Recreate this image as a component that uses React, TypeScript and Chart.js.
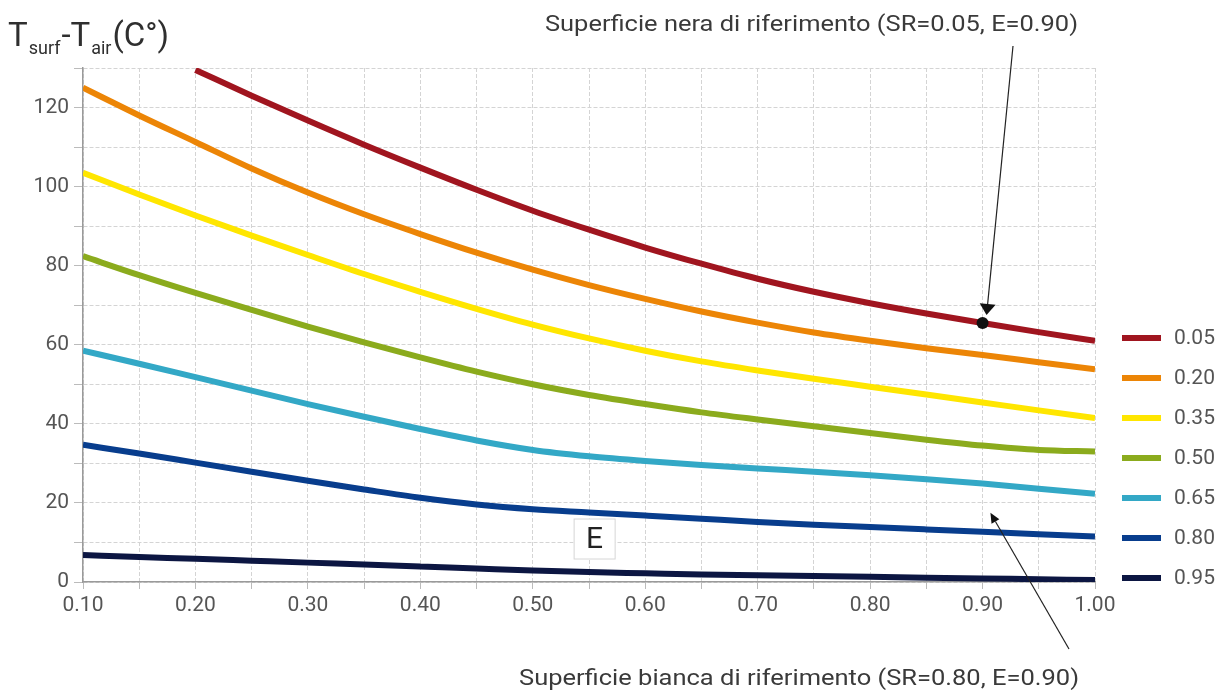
import React, { useEffect, useRef } from "react";
import { Chart, registerables } from "chart.js";

Chart.register(...registerables);

// ---------- data ----------
const xValues = [0.1, 0.15, 0.2, 0.25, 0.3, 0.35, 0.4, 0.45, 0.5, 0.55, 0.6, 0.65, 0.7, 0.75, 0.8, 0.85, 0.9, 0.95, 1.0];
const xTickLabels = ["0.10", "0.20", "0.30", "0.40", "0.50", "0.60", "0.70", "0.80", "0.90", "1.00"];
const yTickLabels = ["0", "20", "40", "60", "80", "100", "120"];
const seriesLabels = ["0.05", "0.20", "0.35", "0.50", "0.65", "0.80", "0.95"];
const seriesColors = ["#a0151f", "#ec8506", "#ffe600", "#8bab1d", "#33a8c6", "#083d8d", "#0c1642"];

const sr005 = [null, null, 129.5, 123.0, 116.7, 110.6, 104.8, 99.2, 93.9, 89.1, 84.6, 80.5, 76.7, 73.4, 70.5, 67.9, 65.5, 63.2, 61.0];
const sr020 = [125.0, 118.0, 111.3, 104.6, 98.5, 93.0, 88.0, 83.3, 79.0, 75.1, 71.6, 68.4, 65.6, 63.1, 61.0, 59.1, 57.4, 55.6, 53.8];
const sr035 = [103.5, 98.0, 92.7, 87.6, 82.7, 77.9, 73.4, 69.1, 65.1, 61.6, 58.5, 55.8, 53.5, 51.4, 49.4, 47.4, 45.4, 43.4, 41.5];
const sr050 = [82.4, 77.6, 73.1, 68.8, 64.6, 60.6, 56.8, 53.2, 50.0, 47.3, 45.0, 42.9, 41.1, 39.4, 37.7, 36.0, 34.5, 33.4, 33.0];
const sr065 = [58.5, 55.2, 51.8, 48.4, 45.0, 41.8, 38.7, 35.8, 33.4, 31.8, 30.6, 29.6, 28.7, 27.9, 27.0, 26.0, 24.9, 23.6, 22.3];
const sr080 = [34.7, 32.5, 30.2, 27.9, 25.6, 23.4, 21.3, 19.6, 18.4, 17.6, 16.8, 16.0, 15.2, 14.5, 13.9, 13.3, 12.7, 12.1, 11.5];
const sr095 = [6.8, 6.3, 5.9, 5.4, 4.9, 4.4, 3.9, 3.4, 2.9, 2.5, 2.2, 1.9, 1.7, 1.5, 1.3, 1.1, 0.9, 0.7, 0.5];
const allSeries = [sr005, sr020, sr035, sr050, sr065, sr080, sr095];

const topNote = "Superficie nera di riferimento (SR=0.05, E=0.90)";
const bottomNote = "Superficie bianca di riferimento (SR=0.80, E=0.90)";
const eLabel = "E";

const FONT = "Roboto, 'Noto Sans', sans-serif";

function drawFitText(ctx: CanvasRenderingContext2D, text: string, left: number, cy: number, width: number, size: number, color: string) {
  ctx.save();
  ctx.font = `${size}px ${FONT}`;
  const w = ctx.measureText(text).width;
  ctx.translate(left, cy);
  ctx.scale(width / w, 1);
  ctx.fillStyle = color;
  ctx.textBaseline = "middle";
  ctx.textAlign = "left";
  ctx.fillText(text, 0, 0);
  ctx.restore();
}

function arrow(ctx: CanvasRenderingContext2D, x1: number, y1: number, x2: number, y2: number, headLen: number, headW: number) {
  const ang = Math.atan2(y2 - y1, x2 - x1);
  const bx = x2 - headLen * Math.cos(ang);
  const by = y2 - headLen * Math.sin(ang);
  ctx.beginPath();
  ctx.moveTo(x1, y1);
  ctx.lineTo(bx, by);
  ctx.stroke();
  ctx.beginPath();
  ctx.moveTo(x2, y2);
  ctx.lineTo(bx + (headW / 2) * Math.sin(ang), by - (headW / 2) * Math.cos(ang));
  ctx.lineTo(bx - (headW / 2) * Math.sin(ang), by + (headW / 2) * Math.cos(ang));
  ctx.closePath();
  ctx.fill();
}

const decorPlugin = {
  id: "decor",
  afterDraw(chart: any) {
    const ctx: CanvasRenderingContext2D = chart.ctx;
    const xs = chart.scales.x;
    const ys = chart.scales.y;

    // axis title with subscripts
    ctx.save();
    ctx.fillStyle = "#2f2f2f";
    ctx.textBaseline = "alphabetic";
    ctx.textAlign = "left";
    let x = 8;
    const parts: [string, number, number][] = [
      ["T", 33, 46],
      ["surf", 18, 54],
      ["-T", 33, 46],
      ["air", 18, 54],
      ["(C°)", 33, 46],
    ];
    for (const [t, s, b] of parts) {
      ctx.font = `${s}px ${FONT}`;
      ctx.fillText(t, x, b);
      x += ctx.measureText(t).width + 1;
    }
    ctx.restore();

    // legend
    ctx.save();
    chart.data.datasets.forEach((ds: any, i: number) => {
      const yc = 338 + i * 40;
      ctx.strokeStyle = ds.borderColor;
      ctx.lineWidth = 6;
      ctx.beginPath();
      ctx.moveTo(1122, yc);
      ctx.lineTo(1161, yc);
      ctx.stroke();
      ctx.font = `21px ${FONT}`;
      ctx.fillStyle = "#555";
      ctx.textBaseline = "middle";
      ctx.textAlign = "left";
      ctx.fillText(ds.label, 1174, yc + 1);
    });
    ctx.restore();

    // "E" box
    const ex = xs.getPixelForValue(0.555);
    const ey = ys.getPixelForValue(11);
    ctx.save();
    ctx.fillStyle = "#fff";
    ctx.strokeStyle = "#d6d6d6";
    ctx.lineWidth = 1;
    ctx.fillRect(ex - 21, ey - 20, 42, 41);
    ctx.strokeRect(ex - 20.5, ey - 19.5, 41, 40);
    ctx.fillStyle = "#222";
    ctx.font = `30px ${FONT}`;
    ctx.textAlign = "center";
    ctx.textBaseline = "middle";
    ctx.fillText(eLabel, ex, ey + 2);
    ctx.restore();

    // top annotation
    drawFitText(ctx, topNote, 545, 25, 533, 22, "#3a3a3a");
    const dotX = xs.getPixelForValue(xValues[16]);
    const dotY = ys.getPixelForValue(sr005[16] as number);
    ctx.save();
    ctx.fillStyle = "#111";
    ctx.strokeStyle = "#222";
    ctx.lineWidth = 1.2;
    arrow(ctx, 1013, 46, dotX + 4, dotY - 8, 11, 16);
    ctx.beginPath();
    ctx.arc(dotX, dotY, 6, 0, Math.PI * 2);
    ctx.fill();
    ctx.restore();

    // bottom annotation
    drawFitText(ctx, bottomNote, 519, 679, 560, 22, "#3a3a3a");
    const bx = xs.getPixelForValue(0.907);
    const by = ys.getPixelForValue(sr080[16]) - 19;
    ctx.save();
    ctx.fillStyle = "#111";
    ctx.strokeStyle = "#222";
    ctx.lineWidth = 1.2;
    arrow(ctx, 1069, 649, bx, by, 10, 9);
    ctx.restore();
  },
};

export default function App() {
  const ref = useRef<HTMLCanvasElement | null>(null);

  useEffect(() => {
    if (!ref.current) return;
    const datasets = allSeries.map((vals, i) => ({
      label: seriesLabels[i],
      data: xValues.map((xv, j) => ({ x: xv, y: vals[j] })),
      borderColor: seriesColors[i],
      backgroundColor: seriesColors[i],
      borderWidth: 6,
      pointRadius: 0,
      fill: false,
      tension: 0.4,
      cubicInterpolationMode: "monotone" as const,
      spanGaps: false,
      borderCapStyle: "butt" as const,
    }));

    const chart = new Chart(ref.current, {
      type: "line",
      data: { datasets },
      options: {
        animation: false,
        responsive: false,
        layout: { padding: { left: 8, top: 68, right: 130, bottom: 64 } },
        plugins: { legend: { display: false }, tooltip: { enabled: false } },
        scales: {
          x: {
            type: "linear",
            min: 0.1,
            max: 1.0,
            afterFit: (s: any) => {
              s.height = 45;
            },
            grid: { color: "#d4d4d4", lineWidth: 1, tickLength: 7, tickColor: "#bbb" },
            border: { display: true, color: "#9a9a9a", width: 1.5, dash: [4, 2] },
            ticks: {
              stepSize: 0.05,
              autoSkip: false,
              maxRotation: 0,
              padding: 4,
              color: "#555",
              font: { family: FONT, size: 21 },
              callback: (_v: any, i: number) => (i % 2 === 0 ? xTickLabels[i / 2] : ""),
            },
          },
          y: {
            type: "linear",
            min: 0,
            max: 130,
            afterFit: (s: any) => {
              s.width = 75;
            },
            grid: { color: "#d4d4d4", lineWidth: 1, tickLength: 9, tickColor: "#bbb" },
            border: { display: true, color: "#9a9a9a", width: 1.5, dash: [4, 2] },
            ticks: {
              stepSize: 10,
              autoSkip: false,
              padding: 5,
              color: "#555",
              font: { family: FONT, size: 21 },
              callback: (_v: any, i: number) => (i % 2 === 0 ? yTickLabels[i / 2] : ""),
            },
          },
        },
      },
      plugins: [decorPlugin],
    });
    return () => chart.destroy();
  }, []);

  return (
    <div style={{ position: "fixed", left: 0, top: 0, width: 1225, height: 691, background: "#fff" }}>
      <canvas ref={ref} width={1225} height={691} style={{ display: "block", width: 1225, height: 691 }} />
    </div>
  );
}
